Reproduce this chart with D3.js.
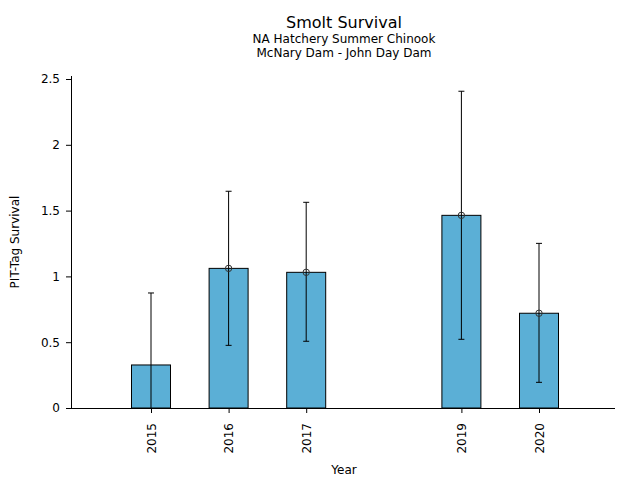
<!DOCTYPE html>
<html><head><meta charset="utf-8">
<script src="https://cdn.jsdelivr.net/npm/d3@7"></script>
<style>body{margin:0;background:#fff}svg{font-family:"DejaVu Sans",sans-serif}</style>
</head><body>
<svg id="chart" width="640" height="480"></svg>
<script>
const years = [2015, 2016, 2017, 2019, 2020];
const survival = [0.327, 1.061, 1.031, 1.464, 0.720];
const lower = [-0.2, 0.476, 0.507, 0.522, 0.195];
const upper = [0.874, 1.647, 1.563, 2.407, 1.251];
const showMarker = [false, true, true, true, true];
const yTicks = [0, 0.5, 1, 1.5, 2, 2.5];
const yTickLabels = ["0", "0.5", "1", "1.5", "2", "2.5"];

const svg = d3.select("#chart");
const x = d3.scaleLinear().domain([2015, 2020]).range([151, 539]);
const y = d3.scaleLinear().domain([0, 2.5]).range([408, 79]);
const barW = 39;
const xLeft = 71, xRight = 615;

svg.append("defs").append("clipPath").attr("id","clip")
  .append("rect").attr("x", xLeft).attr("y", 60).attr("width", xRight - xLeft).attr("height", 408 - 60);

// bars
svg.append("g").selectAll("rect").data(years).join("rect")
  .attr("x", d => x(d) - barW/2)
  .attr("y", (d,i) => y(survival[i]))
  .attr("width", barW)
  .attr("height", (d,i) => y(0) - y(survival[i]))
  .attr("fill", "#5bafd6").attr("stroke", "#000").attr("stroke-width", 1);

// error bars
const eg = svg.append("g").attr("clip-path", "url(#clip)");
years.forEach((d,i) => {
  const cx = x(d);
  eg.append("line").attr("x1", cx).attr("x2", cx).attr("y1", y(lower[i])).attr("y2", y(upper[i]))
    .attr("stroke", "#000").attr("stroke-width", 1);
  [lower[i], upper[i]].forEach(v => {
    eg.append("line").attr("x1", cx - 3).attr("x2", cx + 3).attr("y1", y(v)).attr("y2", y(v))
      .attr("stroke", "#000").attr("stroke-width", 1);
  });
  if (showMarker[i]) {
    eg.append("circle").attr("cx", cx).attr("cy", y(survival[i])).attr("r", 3.2)
      .attr("fill", "none").attr("stroke", "#333").attr("stroke-width", 1);
  }
});

// y axis
const yAxis = d3.axisLeft(y).tickValues(yTicks).tickFormat((d,i) => yTickLabels[i]).tickSize(5).tickPadding(6);
const gy = svg.append("g").attr("transform", `translate(${xLeft},0)`).call(yAxis);
gy.select(".domain").remove();
gy.append("line").attr("x1", 0.5).attr("x2", 0.5).attr("y1", 76).attr("y2", y(0)).attr("stroke", "#000");
gy.selectAll("text").attr("font-size", 12).attr("fill", "#000").attr("font-family", "DejaVu Sans");
gy.selectAll(".tick line").attr("stroke", "#000");

// x axis
const xAxis = d3.axisBottom(x).tickValues(years).tickFormat(d3.format("d")).tickSize(5).tickPadding(4);
const gx = svg.append("g").attr("transform", `translate(0,${y(0)})`).call(xAxis);
gx.select(".domain").remove();
gx.append("line").attr("x1", xLeft).attr("x2", xRight).attr("y1", 0.5).attr("y2", 0.5).attr("stroke", "#000");
gx.selectAll(".tick line").attr("stroke", "#000");
gx.selectAll("text").attr("font-size", 12).attr("fill", "#000").attr("font-family", "DejaVu Sans")
  .attr("transform", "rotate(-90)").attr("text-anchor", "end").attr("dy", "0.35em").attr("x", -15).attr("y", 0);

// titles
svg.append("text").attr("x", 344).attr("y", 28).attr("text-anchor", "middle").attr("font-size", 16).text("Smolt Survival");
svg.append("text").attr("x", 344).attr("y", 42.5).attr("text-anchor", "middle").attr("font-size", 12).text("NA Hatchery Summer Chinook");
svg.append("text").attr("x", 344).attr("y", 57).attr("text-anchor", "middle").attr("font-size", 12).text("McNary Dam - John Day Dam");

svg.append("text").attr("x", 344).attr("y", 474).attr("text-anchor", "middle").attr("font-size", 12).text("Year");
svg.append("text").attr("transform", "translate(19,242) rotate(-90)").attr("text-anchor", "middle").attr("font-size", 12).text("PIT-Tag Survival");
</script>
</body></html>
